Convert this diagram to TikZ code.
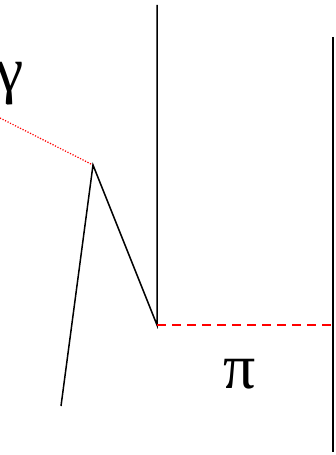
\documentclass[tikz,border=0pt]{standalone}
\usepackage{fontspec}
\setmainfont{Liberation Serif}
\begin{document}
\begin{tikzpicture}[x=1bp,y=-1bp,
  blk/.style={draw=black,line width=1.5bp},
  wall/.style={draw=black,line width=2.2bp},
  reddot/.style={draw=red,line width=1.2bp,dash pattern=on 1.2bp off 1.6bp},
  reddash/.style={draw=red,line width=1.5bp,dash pattern=on 9bp off 6bp},
  lbl/.style={inner sep=0pt,font=\fontsize{64}{64}\selectfont}]
\useasboundingbox (0,0) rectangle (335,455);
\coordinate (s) at (0,118);
\coordinate (p) at (93,165);
\coordinate (b) at (61,406);
\coordinate (v) at (157,325);
\coordinate (t) at (157,5);
\coordinate (e) at (333,325);
\coordinate (wt) at (333,37);
\coordinate (wb) at (333,452);
\draw[reddot] (s) -- (p);
\draw[blk] (b) -- (p) -- (v) -- (t);
\draw[reddash] (v) -- (e);
\draw[wall] (wt) -- (wb);
\node[lbl] (g) at (10,84) {γ};
\node[lbl] (pi) at (240,374) {π};
\end{tikzpicture}
\end{document}
